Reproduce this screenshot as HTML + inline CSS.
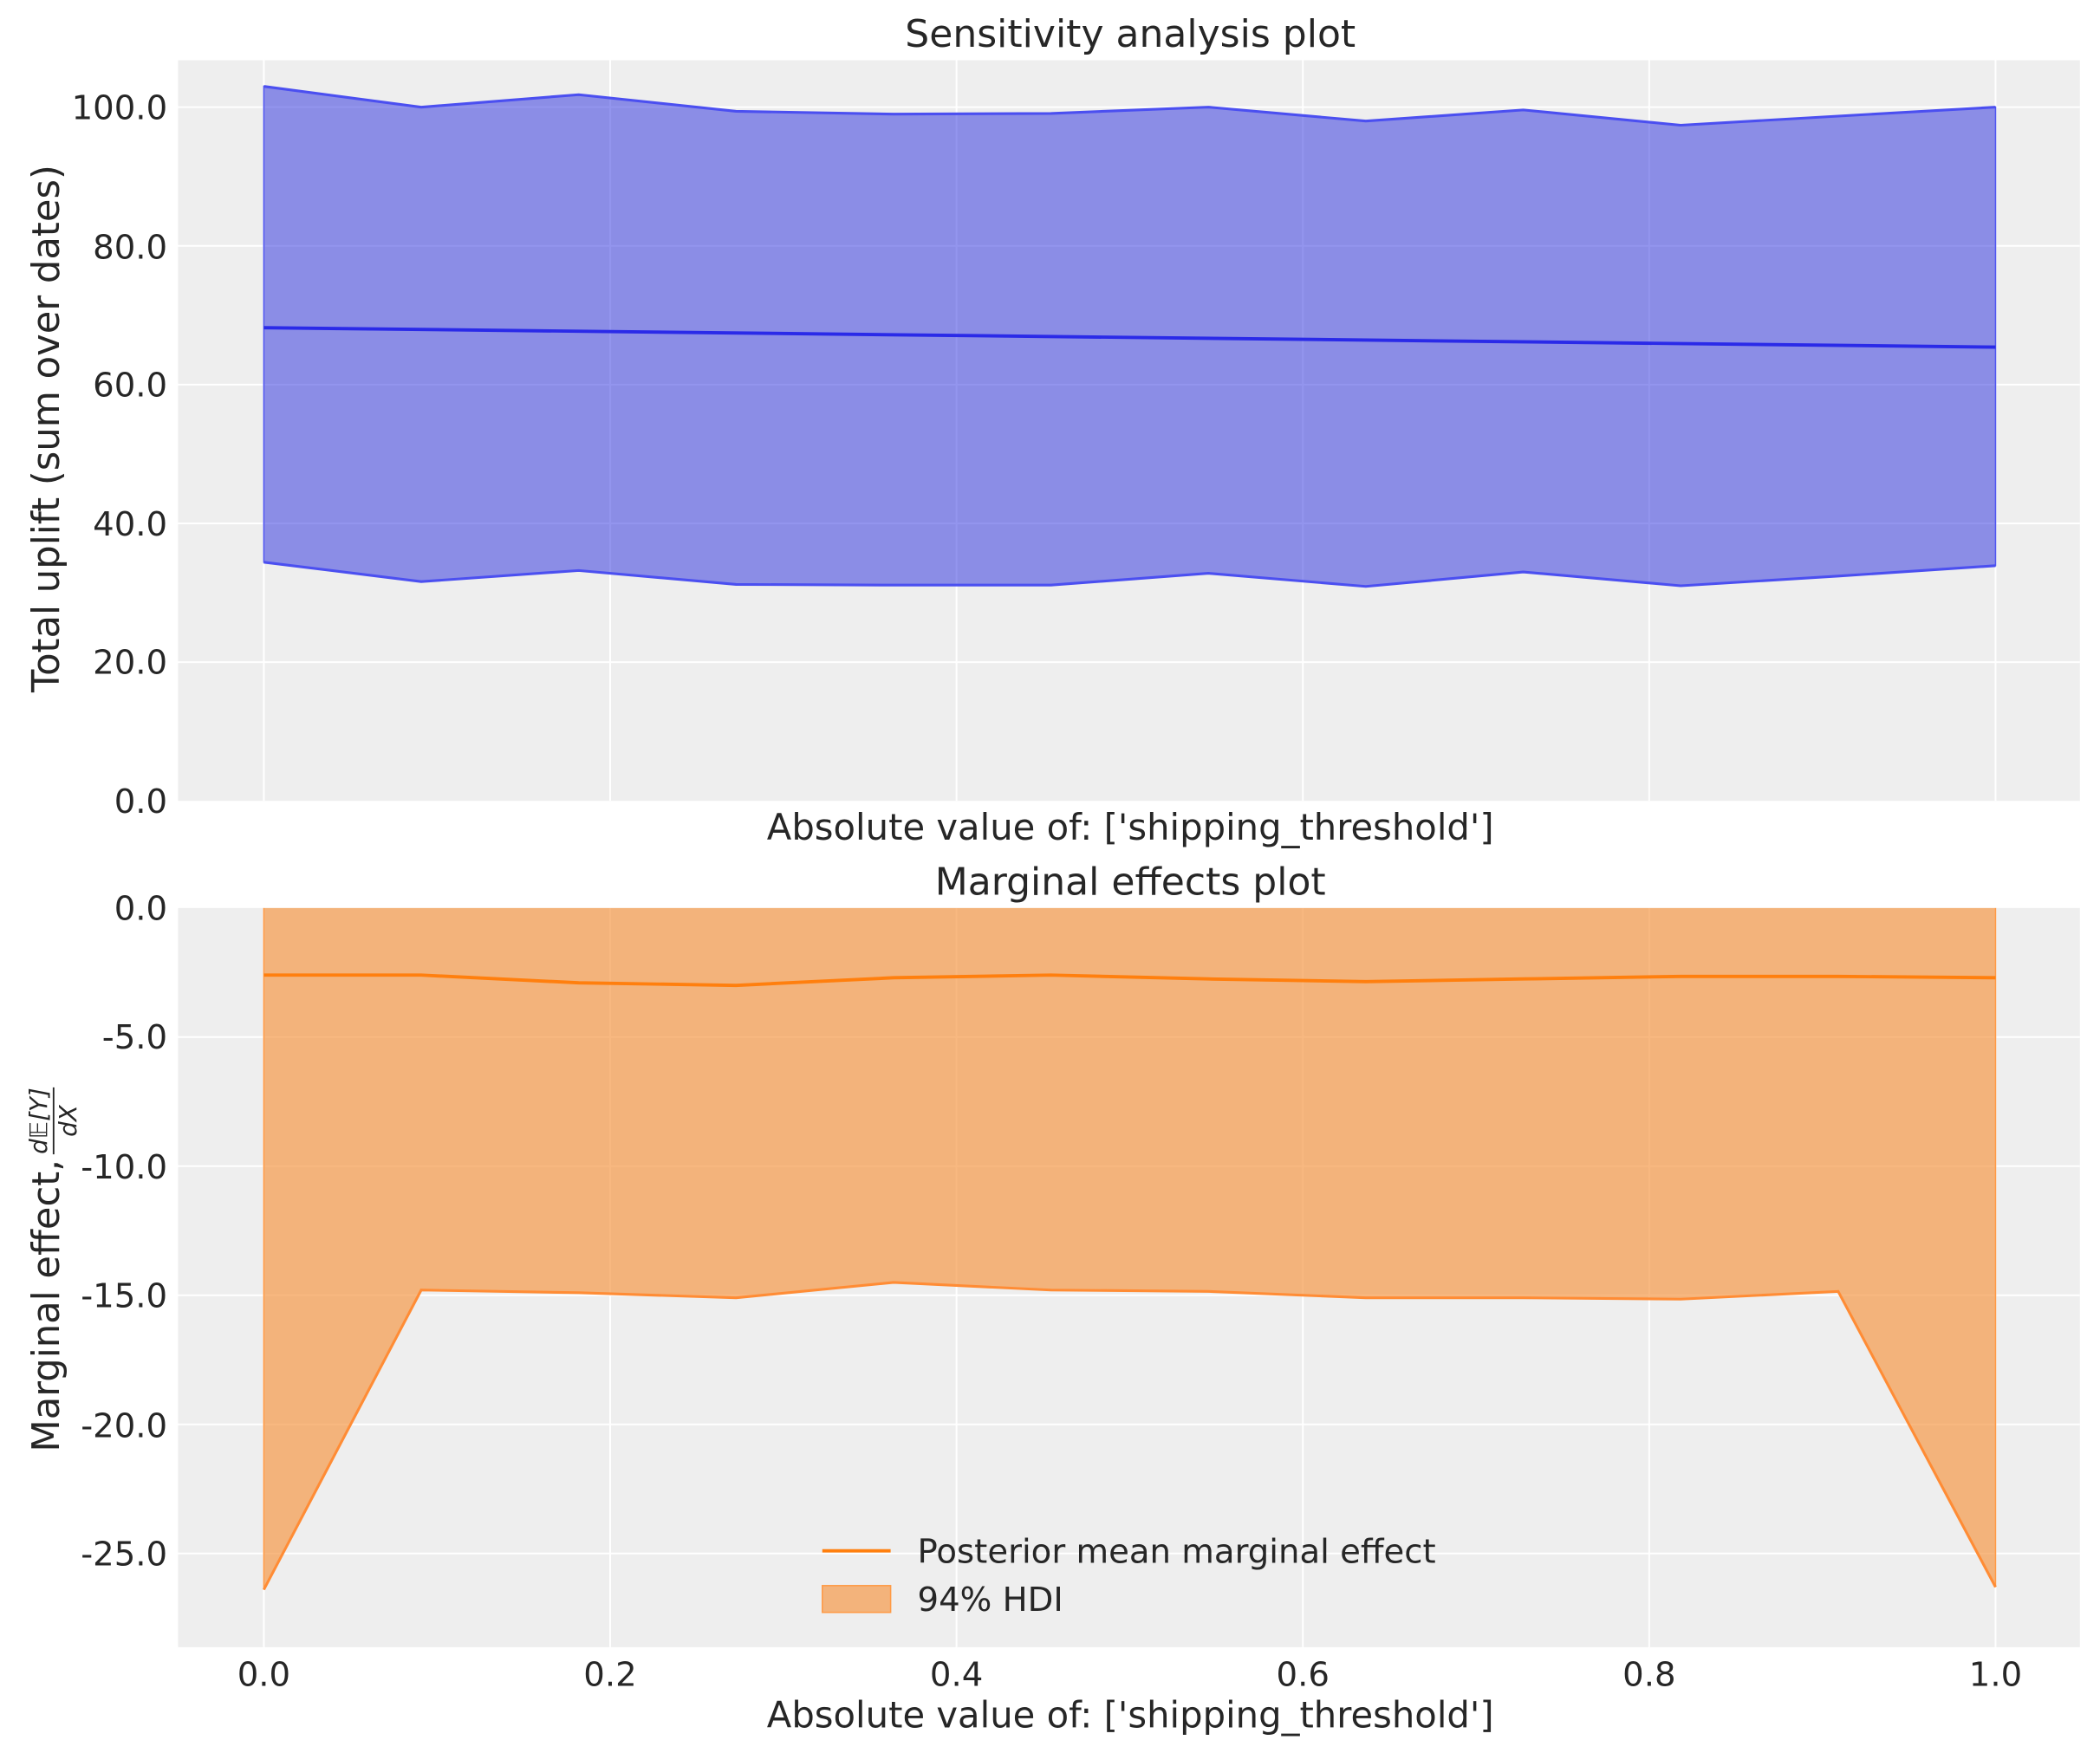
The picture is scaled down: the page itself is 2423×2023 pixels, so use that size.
<!DOCTYPE html>
<html><head><meta charset="utf-8"><style>
html,body{margin:0;padding:0;background:#fff}
svg{display:block}
text{font-family:"DejaVu Sans","Liberation Sans",sans-serif;fill:#262626}
</style></head><body>
<svg width="2423" height="2023" viewBox="0 0 1568 1309" preserveAspectRatio="none" xmlns="http://www.w3.org/2000/svg">
<defs>
<clipPath id="c1"><rect x="133" y="45" width="1420" height="553"/></clipPath>
<clipPath id="c2"><rect x="133" y="678" width="1420" height="552"/></clipPath>
</defs>
<rect x="133" y="45" width="1420" height="553" fill="#eeeeee"/>
<g stroke="#fff" stroke-width="1.3">
<line x1="197" y1="45" x2="197" y2="598"/><line x1="455.6" y1="45" x2="455.6" y2="598"/><line x1="714.2" y1="45" x2="714.2" y2="598"/><line x1="972.8" y1="45" x2="972.8" y2="598"/><line x1="1231.4" y1="45" x2="1231.4" y2="598"/><line x1="1490" y1="45" x2="1490" y2="598"/>
<line x1="133" y1="494.4" x2="1553" y2="494.4"/><line x1="133" y1="390.8" x2="1553" y2="390.8"/><line x1="133" y1="287.2" x2="1553" y2="287.2"/><line x1="133" y1="183.6" x2="1553" y2="183.6"/><line x1="133" y1="80" x2="1553" y2="80"/>
</g>
<g clip-path="url(#c1)">
<polygon fill="#3a3ee0" fill-opacity="0.55" stroke="#5055f0" stroke-width="1" points="197,64.5 314.5,80 432.1,70.7 549.6,83.1 667.2,85.2 784.7,84.7 902.3,80 1019.8,90.4 1137.4,82.1 1254.9,93.5 1372.5,86.7 1490,80 1490,422.4 1372.5,430.2 1254.9,437.4 1137.4,427.1 1019.8,437.9 902.3,428.1 784.7,436.9 667.2,436.9 549.6,436.4 432.1,426 314.5,434.3 197,419.8"/>
<polyline fill="none" stroke="#4b4ff0" stroke-width="2" points="197,64.5 314.5,80 432.1,70.7 549.6,83.1 667.2,85.2 784.7,84.7 902.3,80 1019.8,90.4 1137.4,82.1 1254.9,93.5 1372.5,86.7 1490,80"/>
<polyline fill="none" stroke="#4b4ff0" stroke-width="2" points="197,419.8 314.5,434.3 432.1,426 549.6,436.4 667.2,436.9 784.7,436.9 902.3,428.1 1019.8,437.9 1137.4,427.1 1254.9,437.4 1372.5,430.2 1490,422.4"/>
<line x1="197" y1="244.7" x2="1490" y2="259.2" stroke="#2a2ae8" stroke-width="2.5"/>
</g>
<g font-size="25" text-anchor="end">
<text x="125" y="607">0.0</text><text x="125" y="503">20.0</text><text x="125" y="400">40.0</text><text x="125" y="296">60.0</text><text x="125" y="193">80.0</text><text x="125" y="89">100.0</text>
</g>
<text x="844" y="35" font-size="28.5" text-anchor="middle">Sensitivity analysis plot</text>
<text x="844" y="627" font-size="27" text-anchor="middle">Absolute value of: ['shipping_threshold']</text>
<text transform="translate(44,320) rotate(-90)" font-size="28" text-anchor="middle">Total uplift (sum over dates)</text>

<rect x="133" y="678" width="1420" height="552" fill="#eeeeee"/>
<g stroke="#fff" stroke-width="1.3">
<line x1="197" y1="678" x2="197" y2="1230"/><line x1="455.6" y1="678" x2="455.6" y2="1230"/><line x1="714.2" y1="678" x2="714.2" y2="1230"/><line x1="972.8" y1="678" x2="972.8" y2="1230"/><line x1="1231.4" y1="678" x2="1231.4" y2="1230"/><line x1="1490" y1="678" x2="1490" y2="1230"/>
<line x1="133" y1="774.4" x2="1553" y2="774.4"/><line x1="133" y1="870.8" x2="1553" y2="870.8"/><line x1="133" y1="967.2" x2="1553" y2="967.2"/><line x1="133" y1="1063.6" x2="1553" y2="1063.6"/><line x1="133" y1="1160" x2="1553" y2="1160"/>
</g>
<g clip-path="url(#c2)">
<polygon fill="#f59a4a" fill-opacity="0.7" stroke="#ff9a45" stroke-width="1" points="197,660 1490,660 1490,1185.1 1372.5,964.3 1254.9,970.1 1137.4,969.1 1019.8,969.1 902.3,964.3 784.7,963.3 667.2,957.6 549.6,969.1 432.1,965.3 314.5,963.3 197,1187"/>
<polyline fill="none" stroke="#ff8c35" stroke-width="2" points="197,1187 314.5,963.3 432.1,965.3 549.6,969.1 667.2,957.6 784.7,963.3 902.3,964.3 1019.8,969.1 1137.4,969.1 1254.9,970.1 1372.5,964.3 1490,1185.1"/>
<polyline fill="none" stroke="#ff7f0e" stroke-width="2.5" points="197,728.1 314.5,728.1 432.1,733.9 549.6,735.8 667.2,730.1 784.7,728.1 902.3,731 1019.8,733 1137.4,731 1254.9,729.1 1372.5,729.1 1490,730.1"/>
</g>
<g font-size="25" text-anchor="end">
<text x="125" y="687">0.0</text><text x="125" y="783">-5.0</text><text x="125" y="880">-10.0</text><text x="125" y="976">-15.0</text><text x="125" y="1073">-20.0</text><text x="125" y="1169">-25.0</text>
</g>
<g font-size="25" text-anchor="middle">
<text x="197" y="1259">0.0</text><text x="455.6" y="1259">0.2</text><text x="714.2" y="1259">0.4</text><text x="972.8" y="1259">0.6</text><text x="1231.4" y="1259">0.8</text><text x="1490" y="1259">1.0</text>
</g>
<text x="844" y="668" font-size="28.5" text-anchor="middle">Marginal effects plot</text>
<text x="844" y="1290" font-size="27" text-anchor="middle">Absolute value of: ['shipping_threshold']</text>
<g transform="translate(44,955) rotate(-90)">
<text x="-20" y="0" font-size="28" text-anchor="middle">Marginal effect,</text>
<text x="118" y="-9" font-size="18" font-style="italic" text-anchor="middle">d𝔼[Y]</text>
<line x1="93" y1="-4" x2="143" y2="-4" stroke="#262626" stroke-width="1.2"/>
<text x="118" y="13" font-size="18" font-style="italic" text-anchor="middle">dX</text>
</g>
<line x1="614" y1="1158" x2="665" y2="1158" stroke="#ff7f0e" stroke-width="2.5"/>
<text x="685" y="1167" font-size="25">Posterior mean marginal effect</text>
<rect x="614" y="1184" width="51" height="20" fill="#f59a4a" fill-opacity="0.7" stroke="#ff9a45" stroke-width="1"/>
<text x="685" y="1203" font-size="25">94% HDI</text>
</svg>
</body></html>
